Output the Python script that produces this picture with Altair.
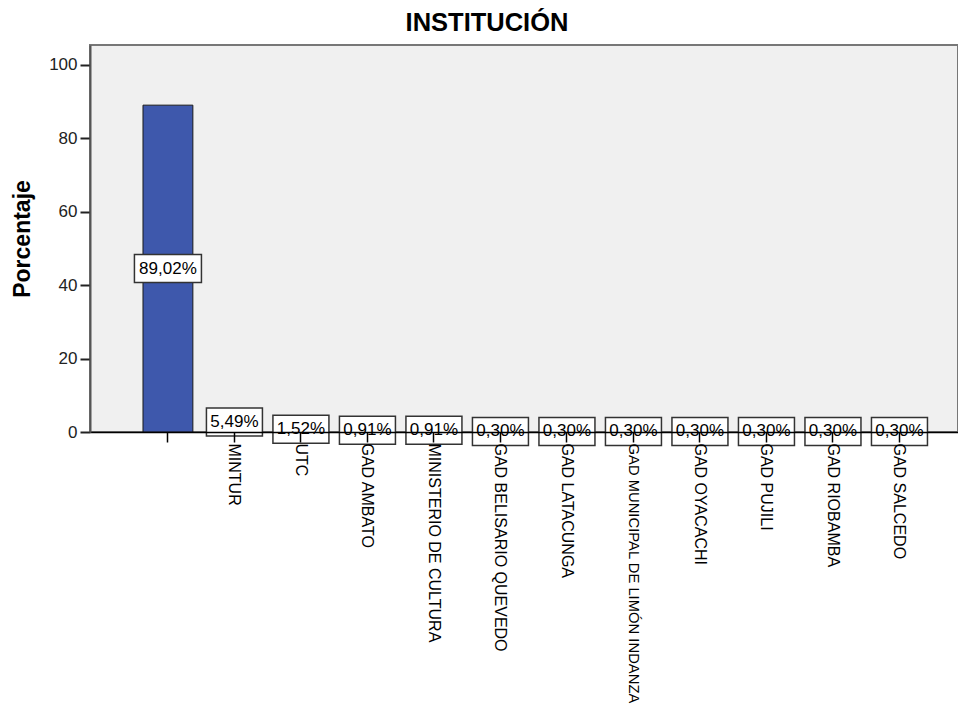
import altair as alt
import pandas as pd

# ---- data ----
categories = [" ", "MINTUR", "UTC", "GAD AMBATO", "MINISTERIO DE CULTURA",
              "GAD BELISARIO QUEVEDO", "GAD LATACUNGA",
              "GAD MUNICIPAL DE LIMÓN INDANZA", "GAD OYACACHI", "GAD PUJILI",
              "GAD RIOBAMBA", "GAD SALCEDO"]
percentages = [89.02, 5.49, 1.52, 0.91, 0.91, 0.30, 0.30, 0.30, 0.30, 0.30, 0.30, 0.30]
value_labels = ["89,02%", "5,49%", "1,52%", "0,91%", "0,91%", "0,30%", "0,30%",
                "0,30%", "0,30%", "0,30%", "0,30%", "0,30%"]
y_ticks = [0, 20, 40, 60, 80, 100]

df = pd.DataFrame({"cat": categories, "pct": percentages, "label": value_labels})

FONT = "Liberation Sans"

x_enc = alt.X(
    "cat:N",
    sort=categories,
    scale=alt.Scale(domain=categories, paddingInner=0.25, paddingOuter=0.651, align=0.612),
    axis=alt.Axis(
        title=None, labelAngle=90, labelAlign="left", labelBaseline="middle",
        labelFont=FONT,
        labelFontSize={"condition": {"test": "length(datum.label) > 25", "value": 14.8}, "value": 16},
        labelColor="black", labelLimit=400,
        labelOverlap=False, labelPadding=1,
        tickSize=10, tickColor="black", tickWidth=1.5,
        domainColor="black", domainWidth=1.5, zindex=1,
    ),
)

y_enc = alt.Y(
    "pct:Q",
    scale=alt.Scale(domain=[0, 105.4], nice=False, zero=True),
    axis=alt.Axis(
        title="Porcentaje", values=y_ticks, grid=False,
        labelFont=FONT, labelFontSize=17, labelColor="#222", labelPadding=3,
        tickSize=10, tickColor="#222", tickWidth=2,
        domainColor="#555", domainWidth=2,
        titleFont=FONT, titleFontSize=23, titleFontWeight="bold", titleColor="black",
        titlePadding=14, zindex=1,
    ),
)

base = alt.Chart(df).transform_calculate(mid="datum.pct / 2")

bars = base.mark_bar(color="#3E58AC", stroke="#1a1a1a", strokeWidth=1).encode(
    x=x_enc, y=y_enc
)

mid_y = alt.Y("mid:Q")

box_wide = base.transform_filter("length(datum.label) > 5").mark_rect(
    width=67, height=28, fill="white", stroke="#333333", strokeWidth=1.5
).encode(x=alt.X("cat:N", sort=categories), y=mid_y)

box_narrow = base.transform_filter("length(datum.label) <= 5").mark_rect(
    width=56, height=28, fill="white", stroke="#333333", strokeWidth=1.5
).encode(x=alt.X("cat:N", sort=categories), y=mid_y)

texts = base.mark_text(font=FONT, fontSize=17, color="black", baseline="middle", align="center").encode(
    x=alt.X("cat:N", sort=categories), y=mid_y, text="label:N"
)

chart = alt.layer(bars, box_wide, box_narrow, texts).properties(
    width=868,
    height=387,
    background="white",
    title=alt.TitleParams(
        "INSTITUCIÓN", font=FONT, fontSize=25.5, fontWeight="bold", color="black",
        anchor="middle", dx=-37, dy=23, offset=12, baseline="alphabetic",
    ),
    autosize=alt.AutoSizeParams(type="none"),
    padding={"left": 82, "top": 37, "right": 0, "bottom": 278},
).configure_view(
    fill="#F0F0F0", stroke="#777777", strokeWidth=2
)

chart.save("out.html", embed_options={"renderer": "svg", "actions": False})
